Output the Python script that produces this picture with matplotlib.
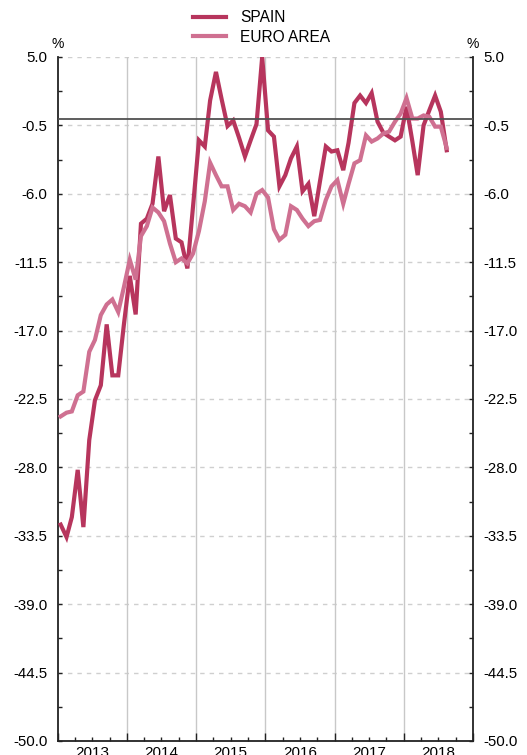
import matplotlib
matplotlib.use("Agg")
import matplotlib.pyplot as plt
import matplotlib.dates as mdates
import matplotlib.transforms as mtransforms
import numpy as np
import pandas as pd
from datetime import datetime

plt.rcParams['font.family'] = ['Liberation Sans', 'DejaVu Sans']

# ---- data ----
start_month = '2013-01-01'
n_months = 68
series_labels = ['SPAIN', 'EURO AREA']
spain = [-32.6, -33.6, -32.0, -28.2, -32.8, -25.8, -22.6, -21.4, -16.5, -20.6, -20.6, -16.5,
         -12.6, -15.7, -8.4, -8.0, -6.8, -3.0, -7.4, -6.1, -9.6, -9.9, -12.0, -7.0,
         -1.7, -2.2, 1.5, 3.8, 1.6, -0.55, -0.1, -1.5, -3.0, -1.7, -0.4, 5.0,
         -0.9, -1.4, -5.4, -4.5, -3.15, -2.2, -5.8, -5.2, -7.8, -5.0, -2.2, -2.6,
         -2.5, -4.1, -1.9, 1.3, 1.9, 1.3, 2.1, -0.2, -1.1, -1.4, -1.7, -1.4,
         1.0, -1.8, -4.5, -0.5, 0.7, 1.9, 0.6, -2.5]
euro = [-23.9, -23.6, -23.5, -22.2, -21.9, -18.7, -17.75, -15.75, -14.9, -14.5, -15.5, -13.5,
        -11.3, -12.9, -9.4, -8.6, -7.1, -7.5, -8.2, -10.0, -11.5, -11.2, -11.6, -10.8,
        -9.0, -6.6, -3.5, -4.5, -5.4, -5.4, -7.3, -6.8, -7.0, -7.5, -6.0, -5.7,
        -6.3, -8.85, -9.7, -9.3, -7.0, -7.3, -8.0, -8.6, -8.2, -8.1, -6.5, -5.4,
        -4.9, -6.8, -5.2, -3.55, -3.3, -1.3, -1.8, -1.55, -1.15, -1.0, -0.2, 0.45,
        1.7, 0.05, 0.05, 0.3, 0.2, -0.6, -0.6, -2.3]
years = [2013, 2014, 2015, 2016, 2017, 2018]
y_ticks = [5.0, -0.5, -6.0, -11.5, -17.0, -22.5, -28.0, -33.5, -39.0, -44.5, -50.0]
unit_label = '%'

# ---- styling ----
c_spain = '#B7355D'
c_euro = '#CF7091'
lw = 3.0

dates = pd.date_range(start_month, periods=n_months, freq='MS') + pd.Timedelta(days=14)

fig = plt.figure(figsize=(5.27, 7.55), dpi=100)
ax = fig.add_axes([58 / 527, 14 / 755, 415 / 527, 684 / 755])

x0 = datetime(years[0], 1, 1)
x1 = datetime(years[-1] + 1, 1, 1)
ax.set_xlim(x0, x1)
ax.set_ylim(y_ticks[-1], y_ticks[0])

# grid
for yv in y_ticks:
    ax.axhline(yv, color='#cfcfcf', lw=1.0, ls=(0, (3.2, 3.6)), zorder=1)
for yr in years[1:]:
    ax.axvline(datetime(yr, 1, 1), color='#c8c8c8', lw=1.0, zorder=1)

ax.plot(dates, spain, color=c_spain, lw=lw, label=series_labels[0], zorder=3,
        solid_joinstyle='miter')
ax.plot(dates, euro, color=c_euro, lw=lw, label=series_labels[1], zorder=3,
        solid_joinstyle='miter')
ax.axhline(0, color='#505050', lw=1.3, zorder=4)

# y axis
ax.set_yticks(y_ticks)
ax.set_yticklabels([f'{v:.1f}' for v in y_ticks])
mids = [(a + b) / 2 for a, b in zip(y_ticks[:-1], y_ticks[1:])]
ax.set_yticks(mids, minor=True)
ax.tick_params(axis='y', which='both', direction='in', length=2.6, width=1.0,
               left=True, right=True, labelleft=True, labelright=True,
               labelsize=10.8, pad=7.5, colors='#222222')
ax.tick_params(axis='y', which='both', labelcolor='black')

# x axis
ax.set_xticks([datetime(y, 1, 1) for y in years + [years[-1] + 1]])
ax.set_xticklabels([])
ax.set_xticks([datetime(y, m, 1) for y in years for m in (4, 7, 10)], minor=True)
ax.tick_params(axis='x', which='major', direction='in', length=6, width=1.0, colors='#222222')
ax.tick_params(axis='x', which='minor', direction='in', length=2.6, width=1.0, colors='#222222')

trans = mtransforms.blended_transform_factory(ax.transData, ax.transAxes)
for yr in years:
    ax.text(datetime(yr, 7, 2), -0.007, str(yr), transform=trans, ha='center', va='top',
            fontsize=11)

for s in ['left', 'right', 'bottom']:
    ax.spines[s].set_color('#222222')
    ax.spines[s].set_linewidth(1.3)
ax.spines['top'].set_visible(False)

# % labels
ax.text(0.0, 1.0 + 6 / 684, unit_label, transform=ax.transAxes, ha='center', va='bottom', fontsize=10)
ax.text(1.0, 1.0 + 6 / 684, unit_label, transform=ax.transAxes, ha='center', va='bottom', fontsize=10)

leg = fig.legend(loc='upper left', bbox_to_anchor=(192.7 / 527, 1 - 10 / 755),
                 frameon=False, fontsize=11.2, handlelength=2.13, handletextpad=0.94,
                 borderpad=0, borderaxespad=0, labelspacing=0.3)

fig.savefig('out.png', dpi=100)
